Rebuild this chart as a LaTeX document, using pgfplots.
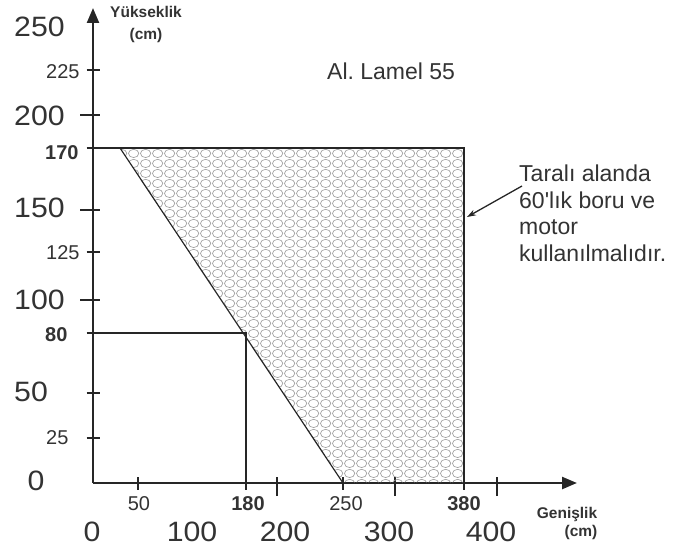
\documentclass[border=0pt]{standalone}
\usepackage{pgfplots}
\pgfplotsset{compat=1.18}
\usepackage{fontspec}
\setmainfont{Liberation Sans}[Ligatures=TeXOff]
\newfontfamily\widefont{Liberation Sans}[FakeStretch=1.08]
\usetikzlibrary{patterns.meta,arrows.meta}
\definecolor{ink}{HTML}{262626}
\definecolor{txt}{HTML}{333333}
\tikzdeclarepattern{
  name=ovals,
  type=uncolored,
  bottom left={(0pt,0pt)},
  top right={(11.6pt,10pt)},
  tile size={(11.6pt,10pt)},
  code={\draw[line width=0.7pt] (5.8pt,5pt) ellipse [x radius=5.3pt, y radius=4.5pt];}
}
\frenchspacing
\begin{document}
\begin{tikzpicture}
\useasboundingbox (0,0) rectangle (688pt,547pt);
\begin{axis}[
  at={(93pt,64pt)}, anchor=south west,
  x=1pt, y=1pt,
  x coord trafo/.code={\pgfmathparse{0.9*min(#1,50)+(108/130)*max(min(#1,180)-50,0)+1.55*max(min(#1,200)-180,0)+1.32*max(min(#1,250)-200,0)+1.04*max(min(#1,300)-250,0)+0.8625*max(min(#1,380)-300,0)+1.65*max(min(#1,400)-380,0)+1.6*max(#1-400,0)}},
  y coord trafo/.code={\pgfmathparse{1.8*min(#1,50)+2*max(min(#1,80)-50,0)+1.65*max(min(#1,100)-80,0)+1.92*max(min(#1,125)-100,0)+1.68*max(min(#1,150)-125,0)+3.1*max(min(#1,170)-150,0)+1.1*max(min(#1,200)-170,0)+1.8*max(min(#1,225)-200,0)+1.72*max(min(#1,250)-225,0)+1.9*max(#1-250,0)}},
  xmin=0, xmax=450, ymin=0, ymax=260,
  axis lines=left,
  axis line style={line width=2.4pt, color=ink, -{Triangle[length=15pt,width=12pt]}},
  xtick={50,180,200,250,300,380,400},
  ytick={25,50,80,100,125,150,170,200,225},
  xticklabel={\mbox{}}, yticklabel={\mbox{}},
  tick align=center, major tick length=13pt,
  tick style={line width=1.6pt, color=ink},
  extra x ticks={200,300,400}, extra y ticks={100,150,200},
  extra tick style={tick align=outside, major tick length=13pt},
  clip=false,
]
\addplot[draw=ink, line width=1.2pt, pattern=ovals, pattern color=gray!75] coordinates {(30,170) (380,170) (380,0) (250,0)} -- cycle;
\addplot[ink, line width=1.3pt] coordinates {(0,80) (180,80) (180,0)};
\addplot[ink, line width=2.6pt] coordinates {(0,170) (380,170) (380,0)};
\end{axis}
\begin{scope}[x=1pt,y=-1pt,shift={(0,547pt)}]
\tikzset{lbl/.style={inner sep=0pt, text=txt},
  big/.style={font=\widefont\fontsize{28}{30}\selectfont},
  sml/.style={font=\fontsize{20}{22}\selectfont},
  bld/.style={font=\fontsize{20}{22}\selectfont\bfseries}}
% y axis labels
\node[lbl, big, anchor=west] at (14,27) {250};
\node[lbl, big, anchor=west] at (14,116) {200};
\node[lbl, big, anchor=west] at (14,208) {150};
\node[lbl, big, anchor=west] at (14,300) {100};
\node[lbl, big, anchor=west] at (14,392) {50};
\node[lbl, big, anchor=center] at (36,481) {0};
\node[lbl, sml, anchor=west] at (46,72) {225};
\node[lbl, sml, anchor=west] at (46,252.5) {125};
\node[lbl, sml, anchor=west] at (46,438) {25};
\node[lbl, bld, anchor=west] at (45,152.5) {170};
\node[lbl, bld, anchor=west] at (45,335) {80};
% x axis labels
\node[lbl, sml, anchor=center] at (139,504) {50};
\node[lbl, sml, anchor=center] at (346,504) {250};
\node[lbl, bld, anchor=center] at (248,504) {180};
\node[lbl, bld, anchor=center] at (464,504) {380};
\node[lbl, big, anchor=center] at (92,532) {0};
\node[lbl, big, anchor=center] at (192,532) {100};
\node[lbl, big, anchor=center] at (285,532) {200};
\node[lbl, big, anchor=center] at (389,532) {300};
\node[lbl, big, anchor=center] at (491,532) {400};
% axis titles
\node[lbl, anchor=base, font=\fontsize{15.5}{17}\selectfont\bfseries] at (146,18) {Yükseklik};
\node[lbl, anchor=base, font=\fontsize{15.5}{17}\selectfont\bfseries] at (146,40) {(cm)};
\node[lbl, anchor=base, font=\fontsize{15.5}{17}\selectfont\bfseries] at (567,518) {Genişlik};
\node[lbl, anchor=base, font=\fontsize{15.5}{17}\selectfont\bfseries] at (581,536) {(cm)};
% texts
\node[lbl, anchor=base west, font=\fontsize{23}{26}\selectfont] at (327,80) {Al. Lamel 55};
\node[lbl, anchor=base west, font=\fontsize{23}{26}\selectfont] at (519,182) {Taralı alanda};
\node[lbl, anchor=base west, font=\fontsize{23}{26}\selectfont] at (519,208.5) {60'lık boru ve};
\node[lbl, anchor=base west, font=\fontsize{23}{26}\selectfont] at (519,235) {motor};
\node[lbl, anchor=base west, font=\fontsize{23}{26}\selectfont] at (519,261.5) {kullanılmalıdır.};
\draw[ink, line width=1.3pt, -{Stealth[length=9pt,width=6pt]}] (522,186) -- (467,217);
\end{scope}
\end{tikzpicture}
\end{document}
